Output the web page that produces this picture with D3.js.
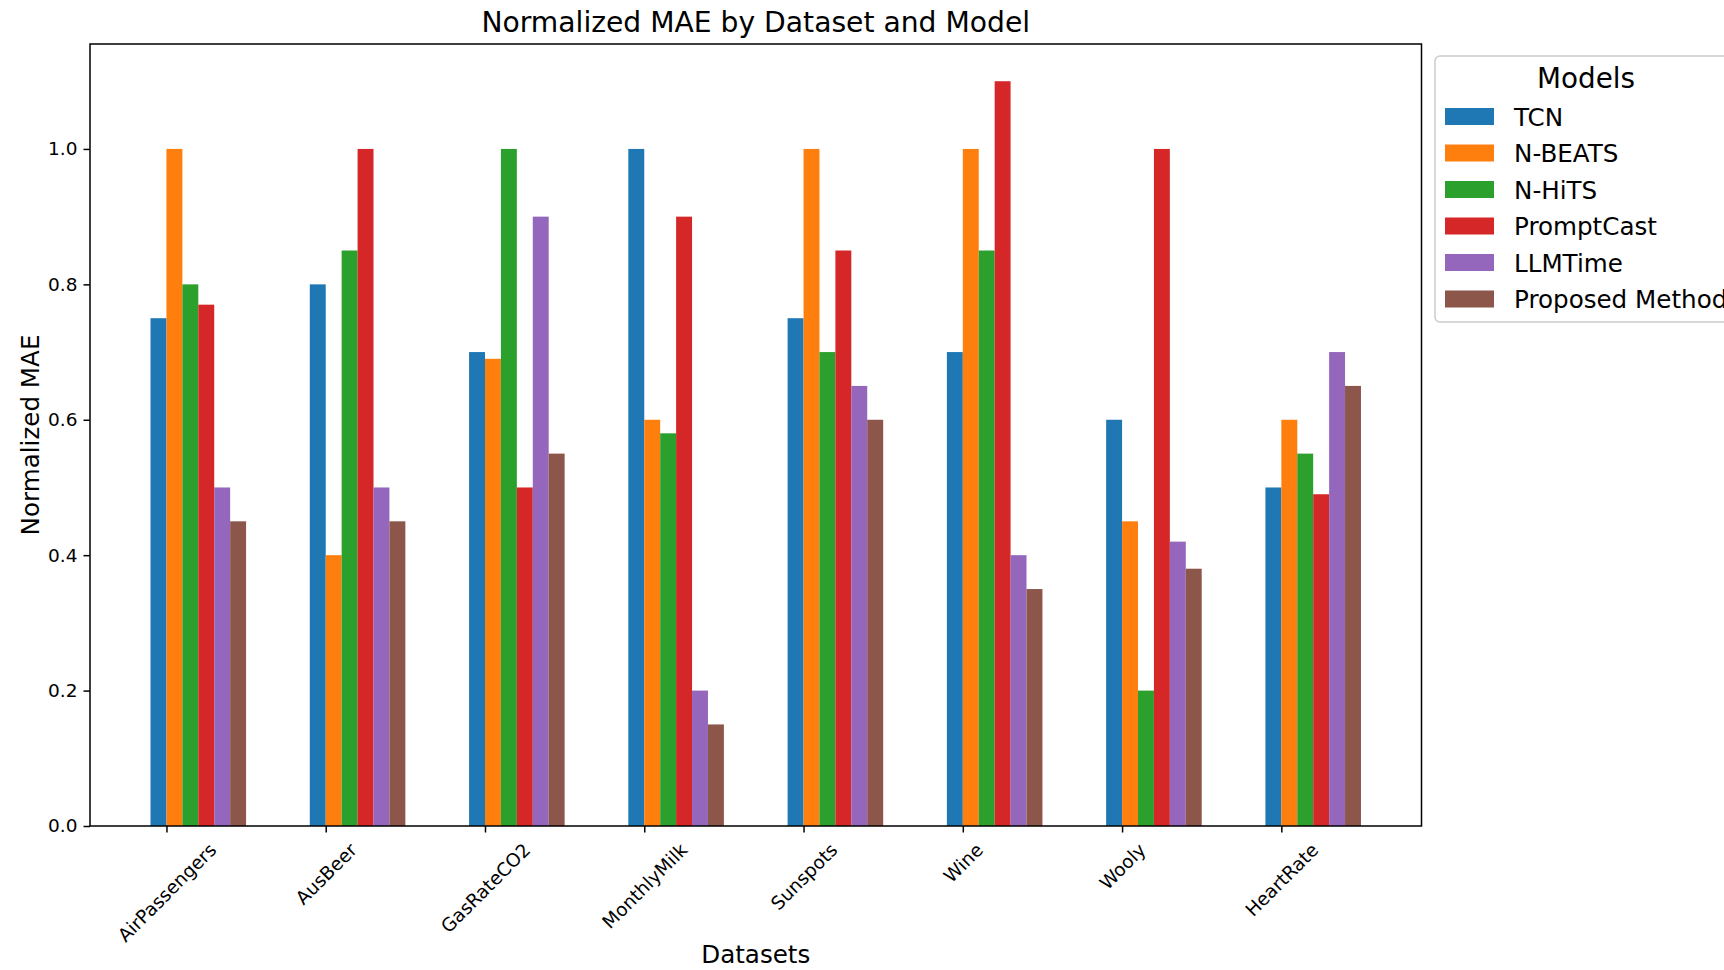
<!DOCTYPE html>
<html>
<head>
<meta charset="utf-8">
<script src="https://cdn.jsdelivr.net/npm/d3@7"></script>
<style>
  html, body { margin: 0; padding: 0; background: #fff; }
  svg { display: block; font-family: "DejaVu Sans", sans-serif; }
</style>
</head>
<body>
<svg id="chart" width="1724" height="970"></svg>
<script>
const datasets = ["AirPassengers", "AusBeer", "GasRateCO2", "MonthlyMilk", "Sunspots", "Wine", "Wooly", "HeartRate"];
const models = ["TCN", "N-BEATS", "N-HiTS", "PromptCast", "LLMTime", "Proposed Method"];
const colors = ["#1f77b4", "#ff7f0e", "#2ca02c", "#d62728", "#9467bd", "#8c564b"];
const tcn        = [0.75, 0.80, 0.70, 1.00, 0.75, 0.70, 0.60, 0.50];
const nbeats     = [1.00, 0.40, 0.69, 0.60, 1.00, 1.00, 0.45, 0.60];
const nhits      = [0.80, 0.85, 1.00, 0.58, 0.70, 0.85, 0.20, 0.55];
const promptcast = [0.77, 1.00, 0.50, 0.90, 0.85, 1.10, 1.00, 0.49];
const llmtime    = [0.50, 0.50, 0.90, 0.20, 0.65, 0.40, 0.42, 0.70];
const proposed   = [0.45, 0.45, 0.55, 0.15, 0.60, 0.35, 0.38, 0.65];
const yTicks = [0.0, 0.2, 0.4, 0.6, 0.8, 1.0];
const series = [tcn, nbeats, nhits, promptcast, llmtime, proposed];

(function () {
const barW = 0.1;
const svg = d3.select("#chart");
svg.append("rect").attr("width", 1724).attr("height", 970).attr("fill", "#fff");

const mLeft = 90, mRight = 1421.5, mTop = 44, mBottom = 826;
const x = d3.scaleLinear().domain([-0.48, 7.88]).range([mLeft, mRight]);
const y = d3.scaleLinear().domain([0, 1.155]).range([mBottom, mTop]);

// bars
series.forEach((vals, j) => {
  svg.append("g").selectAll("rect").data(vals).join("rect")
    .attr("x", (d, i) => x(i + (j - 1) * barW))
    .attr("width", (d, i) => x(i + j * barW) - x(i + (j - 1) * barW))
    .attr("y", d => y(d))
    .attr("height", d => y(0) - y(d))
    .attr("fill", colors[j]);
});

// y axis
const yAxis = d3.axisLeft(y).tickValues(yTicks).tickFormat(d3.format(".1f")).tickSize(6.5).tickPadding(6);
const gy = svg.append("g").attr("transform", `translate(${mLeft},0)`).call(yAxis);
gy.select(".domain").remove();
gy.selectAll(".tick line").attr("stroke", "#000").attr("stroke-width", 1.5);
gy.selectAll(".tick text").attr("font-size", 18.5).attr("font-family", "DejaVu Sans").attr("fill", "#000");

// x axis
const xAxis = d3.axisBottom(x).tickValues(d3.range(datasets.length)).tickFormat(i => datasets[i]).tickSize(6.5);
const gx = svg.append("g").attr("transform", `translate(0,${mBottom})`).call(xAxis);
gx.select(".domain").remove();
gx.selectAll(".tick line").attr("stroke", "#000").attr("stroke-width", 1.5);
gx.selectAll(".tick text").each(function() {
  const t = d3.select(this);
  t.attr("font-size", 18.5).attr("font-family", "DejaVu Sans").attr("fill", "#000")
   .attr("text-anchor", "middle").attr("dy", null).attr("y", 0);
  const w = this.getComputedTextLength();
  const h = 18.5 * 1.164;
  const bh = (w + h) * Math.SQRT1_2;
  const cy = 13 + bh / 2;
  t.attr("dominant-baseline", "central")
   .attr("transform", `translate(0,${cy}) rotate(-45)`);
});

// frame
svg.append("rect").attr("x", mLeft).attr("y", mTop).attr("width", mRight - mLeft).attr("height", mBottom - mTop)
  .attr("fill", "none").attr("stroke", "#000").attr("stroke-width", 1.5);

// titles
svg.append("text").attr("x", (mLeft + mRight) / 2).attr("y", 32).attr("text-anchor", "middle")
  .attr("font-size", 28.2).text("Normalized MAE by Dataset and Model");
svg.append("text").attr("x", (mLeft + mRight) / 2).attr("y", 963).attr("text-anchor", "middle")
  .attr("font-size", 24.6).text("Datasets");
svg.append("text").attr("transform", `translate(39,${(mTop + mBottom) / 2}) rotate(-90)`).attr("text-anchor", "middle")
  .attr("font-size", 24.6).text("Normalized MAE");

// legend
const lg = svg.append("g");
lg.append("rect").attr("x", 1435).attr("y", 56).attr("width", 400).attr("height", 266)
  .attr("rx", 5).attr("fill", "#fff").attr("fill-opacity", 0.8).attr("stroke", "#cccccc").attr("stroke-width", 1.5);
lg.append("text").attr("x", 1586).attr("y", 88).attr("text-anchor", "middle").attr("font-size", 27.8).text("Models");
models.forEach((m, j) => {
  const cy = 116.5 + j * 36.5;
  lg.append("rect").attr("x", 1445).attr("y", cy - 8.5).attr("width", 49).attr("height", 17).attr("fill", colors[j]);
  lg.append("text").attr("x", 1514).attr("y", cy + 9).attr("font-size", 24.6).text(m);
});
})();
</script>
</body>
</html>
